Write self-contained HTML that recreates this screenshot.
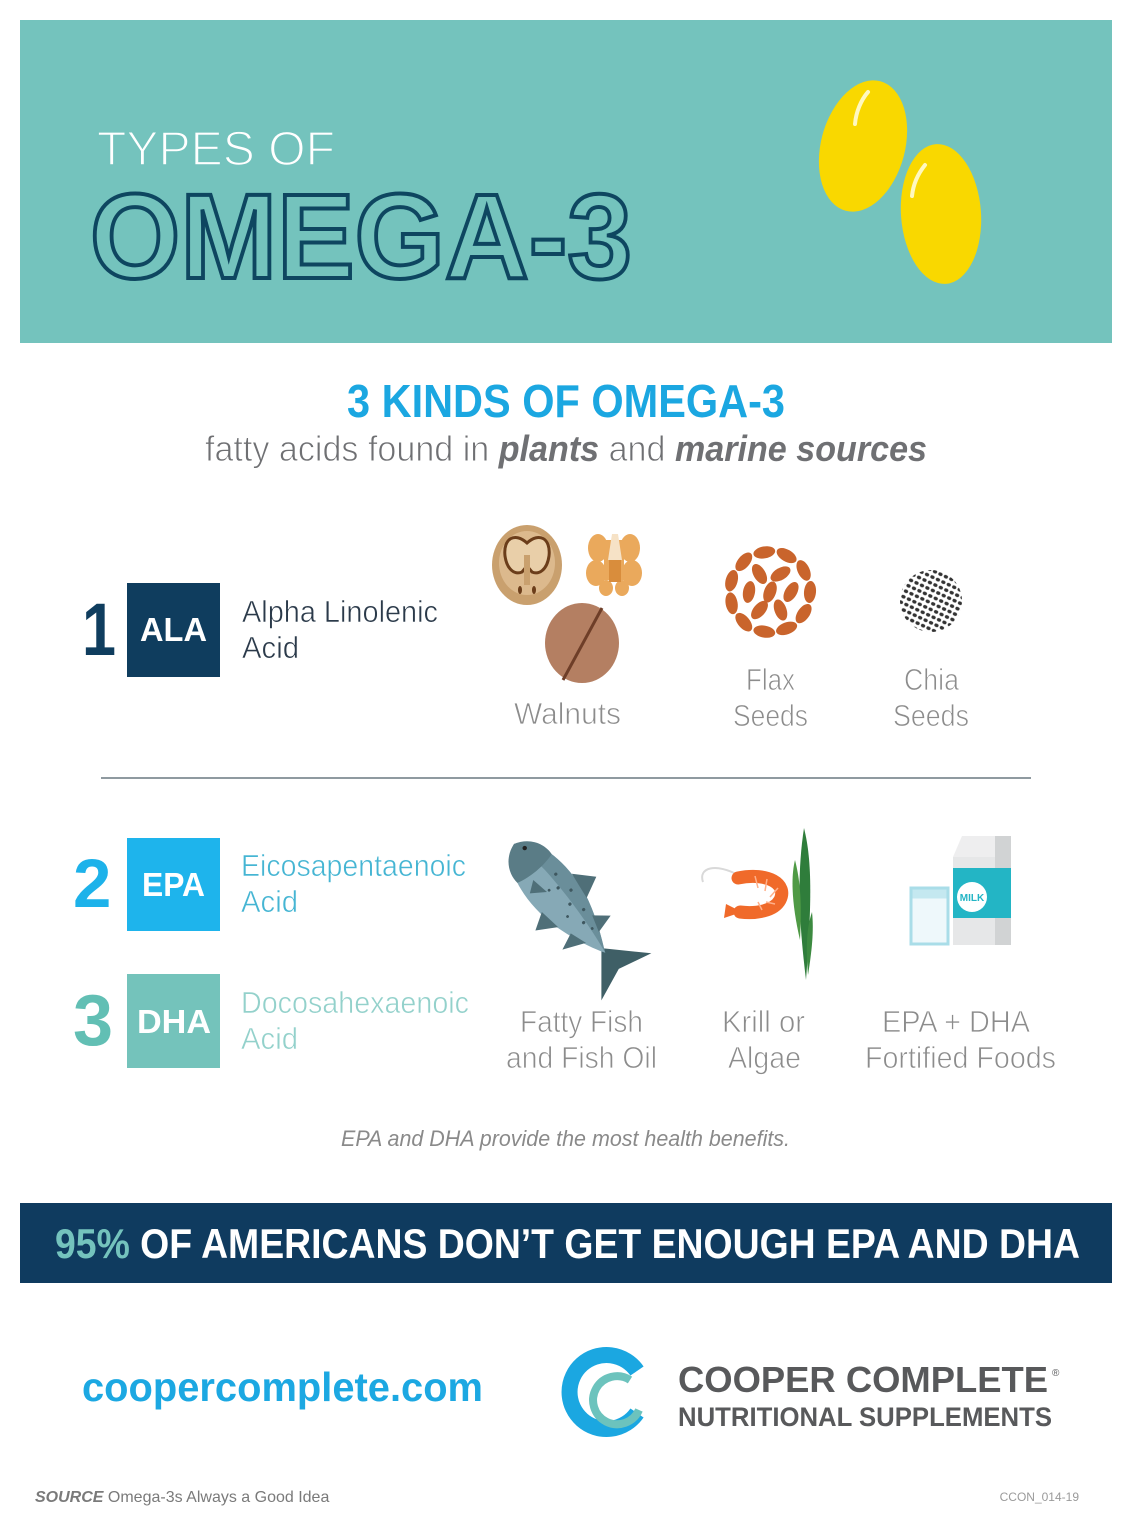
<!DOCTYPE html>
<html><head><meta charset="utf-8"><style>
html,body{margin:0;padding:0;background:#fff;}
svg{display:block;}
text{font-family:"Liberation Sans",sans-serif;}
</style></head><body>
<svg width="1132" height="1536" viewBox="0 0 1132 1536" xmlns="http://www.w3.org/2000/svg">
<defs>
<pattern id="chia" width="6" height="6" patternUnits="userSpaceOnUse" patternTransform="rotate(25)">
<ellipse cx="3" cy="3" rx="2.2" ry="1.7" fill="#333"/>
</pattern>
</defs>
<rect width="1132" height="1536" fill="#fff"/>
<!-- header -->
<rect x="20" y="20" width="1092" height="323" fill="#74c3bd"/>
<text x="97" y="165" font-size="48" fill="#fff" stroke="#74c3bd" stroke-width="1.6" textLength="238" lengthAdjust="spacingAndGlyphs">TYPES OF</text>
<text x="90" y="278" font-size="121" font-weight="bold" fill="#74c3bd" stroke="#0e4660" stroke-width="4" textLength="542" lengthAdjust="spacingAndGlyphs">OMEGA-3</text>
<!-- capsules -->
<ellipse cx="863" cy="146" rx="42" ry="67" fill="#f9d800" transform="rotate(15 863 146)"/>
<path d="M868,92 C861,100 856,112 855,124" stroke="#fff8c0" stroke-width="4" fill="none" stroke-linecap="round"/>
<ellipse cx="941" cy="214" rx="40" ry="70" fill="#f9d800" transform="rotate(-4 941 214)"/>
<path d="M925,165 C917,175 913,186 912,196" stroke="#fff8c0" stroke-width="4" fill="none" stroke-linecap="round"/>

<!-- subtitle -->
<text x="347" y="417" font-size="46" font-weight="bold" fill="#1ba7e1" textLength="438" lengthAdjust="spacingAndGlyphs">3 KINDS OF OMEGA-3</text>
<text x="205" y="461" font-size="36" fill="#6f7073" textLength="722" lengthAdjust="spacingAndGlyphs"><tspan stroke="#fff" stroke-width="0.9">fatty acids found in </tspan><tspan font-weight="bold" font-style="italic">plants</tspan><tspan stroke="#fff" stroke-width="0.9"> and </tspan><tspan font-weight="bold" font-style="italic">marine sources</tspan></text>

<!-- ALA row -->
<text x="82" y="655" font-size="74" font-weight="bold" fill="#0f3d5e" textLength="34" lengthAdjust="spacingAndGlyphs">1</text>
<rect x="127" y="583" width="93" height="94" fill="#0f3d5e"/>
<text x="140" y="641" font-size="33" font-weight="bold" fill="#fff" textLength="67" lengthAdjust="spacingAndGlyphs">ALA</text>
<g stroke="#fff" stroke-width="0.6">
<text x="242" y="622" font-size="31" fill="#2b3a4a" textLength="196" lengthAdjust="spacingAndGlyphs">Alpha Linolenic</text>
<text x="242" y="658" font-size="31" fill="#2b3a4a" textLength="57" lengthAdjust="spacingAndGlyphs">Acid</text>
</g>

<!-- walnuts -->
<ellipse cx="527" cy="565" rx="35" ry="40" fill="#c9a06e"/>
<ellipse cx="527" cy="563" rx="28" ry="32" fill="#dcb98d"/>
<path d="M527,543 C515,532 503,538 505,556 C507,570 515,575 522,572 L527,566 L532,572 C539,575 547,570 549,556 C551,538 539,532 527,543 Z" fill="#e9cfa9" stroke="#6b3d1a" stroke-width="3"/>
<rect x="524" y="555" width="6" height="30" fill="#c9a06e"/>
<ellipse cx="520" cy="590" rx="2" ry="4" fill="#6b3d1a"/>
<ellipse cx="534" cy="590" rx="2" ry="4" fill="#6b3d1a"/>
<g fill="#eaa95c">
<ellipse cx="598" cy="548" rx="10" ry="14"/>
<ellipse cx="630" cy="548" rx="10" ry="14"/>
<ellipse cx="596" cy="573" rx="10" ry="13"/>
<ellipse cx="632" cy="573" rx="10" ry="13"/>
<ellipse cx="606" cy="588" rx="7" ry="8"/>
<ellipse cx="622" cy="588" rx="7" ry="8"/>
<rect x="604" y="540" width="20" height="40"/>
</g>
<path d="M612,534 L618,534 L622,560 L608,560 Z" fill="#f6e2c6"/>
<rect x="609" y="560" width="12" height="22" fill="#d98d3c"/>
<ellipse cx="582" cy="643" rx="37" ry="40" fill="#b47f62"/>
<path d="M602,608 L563,680" stroke="#6e3e28" stroke-width="3"/>

<g stroke="#fff" stroke-width="0.8">
<text x="567.5" y="724" font-size="31" fill="#8c8c8c" text-anchor="middle" textLength="107" lengthAdjust="spacingAndGlyphs">Walnuts</text>
<text x="770.5" y="690" font-size="31" fill="#8c8c8c" text-anchor="middle" textLength="49" lengthAdjust="spacingAndGlyphs">Flax</text>
<text x="770.5" y="726" font-size="31" fill="#8c8c8c" text-anchor="middle" textLength="75" lengthAdjust="spacingAndGlyphs">Seeds</text>
<text x="931.5" y="690" font-size="31" fill="#8c8c8c" text-anchor="middle" textLength="55" lengthAdjust="spacingAndGlyphs">Chia</text>
<text x="931" y="726" font-size="31" fill="#8c8c8c" text-anchor="middle" textLength="76" lengthAdjust="spacingAndGlyphs">Seeds</text>
</g>

<!-- flax -->
<g fill="#c9642c">
<ellipse cx="770" cy="592" rx="6" ry="11" transform="rotate(20 770 592)"/>
<ellipse cx="791" cy="592" rx="6" ry="11" transform="rotate(30 791 592)"/>
<ellipse cx="780.5" cy="610" rx="6" ry="11" transform="rotate(-20 780.5 610)"/>
<ellipse cx="759.5" cy="610" rx="6" ry="11" transform="rotate(40 759.5 610)"/>
<ellipse cx="749" cy="592" rx="6" ry="11" transform="rotate(10 749 592)"/>
<ellipse cx="759.5" cy="574" rx="6" ry="11" transform="rotate(-30 759.5 574)"/>
<ellipse cx="780.5" cy="574" rx="6" ry="11" transform="rotate(60 780.5 574)"/>
<ellipse cx="810" cy="592" rx="6" ry="11" transform="rotate(5 810 592)"/>
<ellipse cx="803.6" cy="613.6" rx="6" ry="11" transform="rotate(35 803.6 613.6)"/>
<ellipse cx="786.6" cy="628.4" rx="6" ry="11" transform="rotate(70 786.6 628.4)"/>
<ellipse cx="764.3" cy="631.6" rx="6" ry="11" transform="rotate(-80 764.3 631.6)"/>
<ellipse cx="743.8" cy="622.2" rx="6" ry="11" transform="rotate(-40 743.8 622.2)"/>
<ellipse cx="731.6" cy="603.3" rx="6" ry="11" transform="rotate(-10 731.6 603.3)"/>
<ellipse cx="731.6" cy="580.7" rx="6" ry="11" transform="rotate(15 731.6 580.7)"/>
<ellipse cx="743.8" cy="561.8" rx="6" ry="11" transform="rotate(40 743.8 561.8)"/>
<ellipse cx="764.3" cy="552.4" rx="6" ry="11" transform="rotate(80 764.3 552.4)"/>
<ellipse cx="786.6" cy="555.6" rx="6" ry="11" transform="rotate(-60 786.6 555.6)"/>
<ellipse cx="803.6" cy="570.4" rx="6" ry="11" transform="rotate(-25 803.6 570.4)"/>
</g>

<!-- chia -->
<circle cx="931" cy="601" r="31" fill="url(#chia)"/>

<!-- divider -->
<rect x="101" y="777" width="930" height="2" fill="#8f9aa0"/>

<!-- EPA row -->
<text x="73" y="907" font-size="69" font-weight="bold" fill="#1db2ea">2</text>
<rect x="127" y="838" width="93" height="93" fill="#1eb4ec"/>
<text x="142" y="896" font-size="33" font-weight="bold" fill="#fff" textLength="63" lengthAdjust="spacingAndGlyphs">EPA</text>
<g stroke="#fff" stroke-width="0.6">
<text x="241" y="876" font-size="31" fill="#45b5d3" textLength="225" lengthAdjust="spacingAndGlyphs">Eicosapentaenoic</text>
<text x="241" y="912" font-size="31" fill="#45b5d3" textLength="57" lengthAdjust="spacingAndGlyphs">Acid</text>
</g>

<!-- DHA row -->
<text x="73" y="1045" font-size="72" font-weight="bold" fill="#62bfb4">3</text>
<rect x="127" y="974" width="93" height="94" fill="#74c3bb"/>
<text x="137" y="1033" font-size="33" font-weight="bold" fill="#fff" textLength="74" lengthAdjust="spacingAndGlyphs">DHA</text>
<g stroke="#fff" stroke-width="0.6">
<text x="241" y="1013" font-size="31" fill="#93d1cb" textLength="228" lengthAdjust="spacingAndGlyphs">Docosahexaenoic</text>
<text x="241" y="1049" font-size="31" fill="#93d1cb" textLength="57" lengthAdjust="spacingAndGlyphs">Acid</text>
</g>

<!-- fish -->
<g transform="translate(514,844) rotate(50) scale(1,1.4)">
<path d="M172,-25 L136,0 L176,24 L163,0 Z" fill="#3f5f66"/>
<path d="M0,0 C8,-16 50,-22 90,-15 C115,-10 130,-4 142,0 C130,5 115,10 90,15 C50,22 8,16 0,0 Z" fill="#86a9b6"/>
<path d="M0,0 C8,-16 50,-22 90,-15 C115,-10 130,-4 142,0 C120,-3 80,-6 40,-5 C20,-4 8,-2 0,0 Z" fill="#6a8e9a"/>
<path d="M0,0 C5,-12 20,-17 32,-16 C36,-6 36,6 32,16 C20,17 5,12 0,0 Z" fill="#5a7c86"/>
<path d="M60,-18 L78,-30 L88,-15 Z" fill="#4f6f78"/>
<path d="M105,-10 L117,-20 L122,-6 Z" fill="#4f6f78"/>
<path d="M70,16 L80,28 L92,14 Z" fill="#4f6f78"/>
<path d="M105,10 L112,22 L122,6 Z" fill="#4f6f78"/>
<path d="M40,6 L58,4 L48,14 Z" fill="#4f6f78"/>
<ellipse cx="10" cy="-4" rx="2.2" ry="1.6" fill="#222"/>
<g fill="#3f5860">
<ellipse cx="50" cy="-9" rx="1.6" ry="1.2"/><ellipse cx="62" cy="-4" rx="1.6" ry="1.2"/><ellipse cx="72" cy="-10" rx="1.6" ry="1.2"/>
<ellipse cx="82" cy="-3" rx="1.6" ry="1.2"/><ellipse cx="95" cy="-8" rx="1.6" ry="1.2"/><ellipse cx="105" cy="-2" rx="1.6" ry="1.2"/>
<ellipse cx="58" cy="2" rx="1.4" ry="1"/><ellipse cx="90" cy="4" rx="1.4" ry="1"/><ellipse cx="115" cy="-4" rx="1.4" ry="1"/>
</g>
</g>

<!-- shrimp -->
<path d="M740,876 C715,862 698,868 703,882" stroke="#d9d9d9" stroke-width="2" fill="none"/>
<path d="M738,878 C768,872 788,884 780,900 C774,911 756,914 740,912" stroke="#f06a2a" stroke-width="13" fill="none" stroke-linecap="round"/>
<path d="M742,912 L726,904 L724,918 Z" fill="#f06a2a"/>
<path d="M755,876 L758,888 M767,879 L765,891 M778,888 L770,897 M775,904 L766,902 M762,910 L758,902" stroke="#ffb08a" stroke-width="1.5"/>

<!-- seaweed -->
<path d="M804,828 C812,860 812,900 806,980 C800,930 796,880 804,828 Z" fill="#2f7d3b"/>
<path d="M795,860 C800,880 802,900 800,940 C793,910 790,880 795,860 Z" fill="#4f9a45"/>
<path d="M812,912 C814,930 812,950 808,975 C806,950 806,930 812,912 Z" fill="#3c8a40"/>

<!-- milk -->
<rect x="911" y="888" width="37" height="56" fill="#eef8fb" stroke="#a9dde8" stroke-width="3"/>
<rect x="912.5" y="889.5" width="34" height="9" fill="#c4e8f0"/>
<path d="M953,857 L962,836 L1003,836 L1011,857 Z" fill="#eeeeef"/>
<rect x="953" y="857" width="58" height="88" fill="#e6e7e8"/>
<rect x="995" y="836" width="16" height="109" fill="#d1d3d4"/>
<rect x="953" y="868" width="58" height="50" fill="#23b5c5"/>
<circle cx="972" cy="897" r="15" fill="#fff"/>
<text x="972" y="901" font-size="10" font-weight="bold" fill="#23b5c5" text-anchor="middle">MILK</text>

<!-- labels row 2 -->
<g stroke="#fff" stroke-width="0.8">
<text x="581.5" y="1032" font-size="31" fill="#8c8c8c" text-anchor="middle" textLength="123" lengthAdjust="spacingAndGlyphs">Fatty Fish</text>
<text x="581.5" y="1068" font-size="31" fill="#8c8c8c" text-anchor="middle" textLength="151" lengthAdjust="spacingAndGlyphs">and Fish Oil</text>
<text x="763.5" y="1032" font-size="31" fill="#8c8c8c" text-anchor="middle" textLength="83" lengthAdjust="spacingAndGlyphs">Krill or</text>
<text x="764.5" y="1068" font-size="31" fill="#8c8c8c" text-anchor="middle" textLength="73" lengthAdjust="spacingAndGlyphs">Algae</text>
<text x="956" y="1032" font-size="31" fill="#8c8c8c" text-anchor="middle" textLength="148" lengthAdjust="spacingAndGlyphs">EPA + DHA</text>
<text x="960.5" y="1068" font-size="31" fill="#8c8c8c" text-anchor="middle" textLength="191" lengthAdjust="spacingAndGlyphs">Fortified Foods</text>
</g>

<text x="341" y="1146" font-size="22" font-style="italic" fill="#8a8a8a" textLength="449" lengthAdjust="spacingAndGlyphs">EPA and DHA provide the most health benefits.</text>

<!-- banner -->
<rect x="20" y="1203" width="1092" height="80" fill="#0f3b5f"/>
<text x="55" y="1258" font-size="42" font-weight="bold" fill="#fff" textLength="1025" lengthAdjust="spacingAndGlyphs"><tspan fill="#74c3bd">95%</tspan> OF AMERICANS DON’T GET ENOUGH EPA AND DHA</text>

<!-- footer -->
<text x="82" y="1401" font-size="41" font-weight="bold" fill="#1ca8e2" textLength="401" lengthAdjust="spacingAndGlyphs">coopercomplete.com</text>
<path d="M637,1371 A37,37 0 1 0 637,1413" stroke="#1ba7e1" stroke-width="16" fill="none"/>
<path d="M630,1380 A24,24 0 1 0 639,1410" stroke="#6cc3bd" stroke-width="8" fill="none"/>
<text x="678" y="1392" font-size="36" font-weight="bold" fill="#58595b" textLength="370" lengthAdjust="spacingAndGlyphs">COOPER COMPLETE</text>
<text x="1052" y="1376" font-size="10" fill="#58595b">®</text>
<text x="678" y="1426" font-size="27" font-weight="bold" fill="#58595b" textLength="374" lengthAdjust="spacingAndGlyphs">NUTRITIONAL SUPPLEMENTS</text>

<text x="35" y="1502" font-size="16" fill="#7a7a7a"><tspan font-weight="bold" font-style="italic">SOURCE</tspan> Omega-3s Always a Good Idea</text>
<text x="1079" y="1501" font-size="12" fill="#9a9a9a" text-anchor="end">CCON_014-19</text>
</svg>
</body></html>
